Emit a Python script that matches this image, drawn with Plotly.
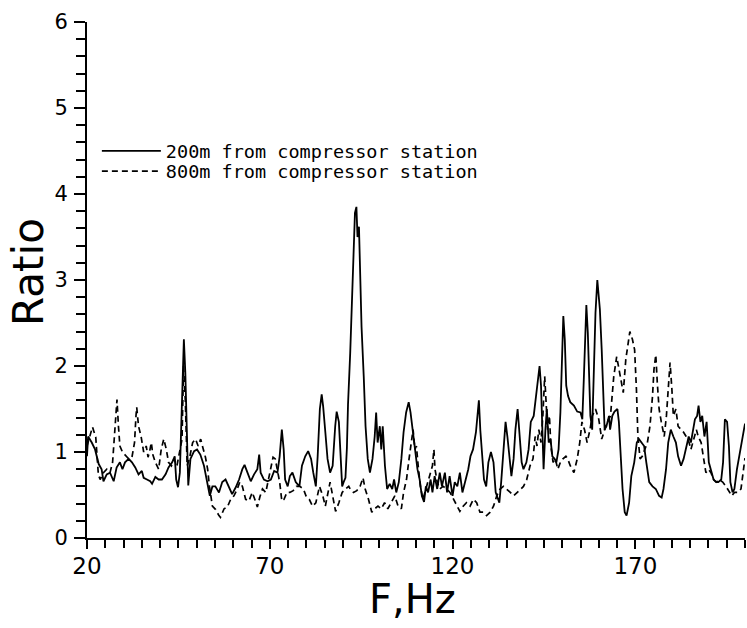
import plotly.graph_objects as go

# ---- data ----
solid_f = [20.0, 20.3, 21.3, 22.2, 23.2, 24.0, 24.5, 25.4, 26.3, 27.3, 28.1, 29.0, 29.7, 30.4, 31.4, 32.3, 33.2, 34.1, 35.0, 35.5,
           36.4, 37.3, 37.8, 38.7, 39.6, 40.5, 41.5, 42.3, 43.3, 44.0, 44.4, 44.9, 45.4, 45.8, 46.2, 46.5, 46.9, 47.3, 47.7, 48.3,
           49.3, 50.1, 51.0, 52.0, 52.8, 53.6, 54.3, 55.1, 56.1, 57.0, 57.9, 58.8, 59.7, 60.7, 61.6, 62.5, 63.1, 63.9, 64.8, 65.7,
           66.6, 67.1, 67.5, 68.4, 69.4, 70.3, 71.2, 72.1, 72.7, 73.3, 73.8, 74.2, 74.9, 75.5, 76.2, 77.1, 78.1, 78.8, 79.7, 80.5,
           81.3, 81.9, 82.6, 83.1, 83.7, 84.2, 84.6, 85.2, 85.8, 86.5, 87.2, 87.9, 88.3, 88.9, 89.3, 89.8, 90.2, 90.7, 91.1, 91.4,
           92.0, 92.5, 93.0, 93.3, 93.7, 94.0, 94.4, 94.7, 95.1, 95.7, 96.2, 96.8, 97.4, 98.1, 98.7, 99.1, 99.5, 100.1, 100.5, 100.9,
           101.5, 102.1, 102.8, 103.5, 104.0, 104.6, 105.3, 106.0, 106.6, 107.3, 108.0, 108.5, 109.2, 109.9, 110.4, 111.0, 111.6, 112.2, 112.7, 113.3,
           114.0, 114.5, 115.1, 115.8, 116.5, 117.1, 117.9, 118.5, 119.2, 120.0, 120.6, 121.3, 122.0, 122.7, 123.4, 124.3, 124.9, 125.6, 126.4, 127.0,
           127.2, 127.6, 128.1, 128.6, 129.2, 129.8, 130.5, 131.2, 131.8, 132.4, 132.8, 133.3, 133.9, 134.5, 135.0, 135.6, 136.1, 136.7, 137.2, 137.8,
           138.3, 138.9, 139.4, 140.2, 140.8, 141.4, 142.2, 142.8, 143.4, 143.8, 144.2, 144.6, 144.9, 145.4, 145.8, 146.3, 146.8, 147.3, 147.9, 148.4,
           149.0, 149.5, 150.0, 150.3, 150.7, 151.1, 151.6, 152.2, 153.2, 154.1, 155.0, 155.5, 155.9, 156.4, 156.6, 157.0, 157.4, 157.7, 158.2, 158.7,
           159.1, 159.6, 159.9, 160.3, 160.8, 161.2, 161.6, 162.1, 162.8, 163.1, 163.7, 164.3, 165.1, 165.5, 166.0, 166.5, 167.1, 167.6, 168.3, 168.9,
           169.7, 170.4, 171.0, 171.8, 172.4, 173.0, 173.8, 174.7, 175.6, 176.5, 177.2, 177.7, 178.4, 179.0, 179.7, 180.4, 181.1, 181.7, 182.5, 183.2,
           183.9, 184.6, 185.2, 185.8, 186.3, 186.9, 187.3, 187.8, 188.3, 188.9, 189.5, 190.1, 190.7, 191.4, 192.1, 192.7, 193.5, 194.0, 194.5, 195.1,
           195.6, 196.0, 196.6, 197.1, 197.8, 198.6, 199.4, 200.0]
solid_ratio = [0.95, 1.18, 1.11, 1.03, 0.86, 0.80, 0.66, 0.74, 0.76, 0.66, 0.82, 0.88, 0.80, 0.88, 0.92, 0.88, 0.82, 0.74, 0.78, 0.70,
               0.68, 0.66, 0.63, 0.71, 0.68, 0.68, 0.74, 0.82, 0.88, 0.95, 0.68, 0.59, 0.76, 1.26, 1.92, 2.31, 1.92, 1.15, 0.61, 0.92,
               1.01, 1.03, 0.97, 0.84, 0.68, 0.49, 0.60, 0.60, 0.53, 0.65, 0.68, 0.60, 0.51, 0.59, 0.68, 0.80, 0.85, 0.76, 0.66, 0.74,
               0.80, 0.97, 0.76, 0.68, 0.66, 0.68, 0.78, 0.76, 0.95, 1.26, 1.03, 0.68, 0.60, 0.72, 0.76, 0.65, 0.60, 0.84, 0.95, 1.01,
               0.92, 0.76, 0.60, 0.95, 1.50, 1.67, 1.53, 1.23, 0.92, 0.76, 0.84, 1.30, 1.47, 1.35, 0.95, 0.60, 0.65, 0.70, 1.05, 1.55,
               2.15, 2.80, 3.40, 3.78, 3.85, 3.50, 3.62, 3.04, 2.46, 1.88, 1.30, 0.92, 0.76, 0.92, 1.18, 1.46, 1.11, 1.30, 1.03, 1.30,
               0.84, 0.57, 0.63, 0.57, 0.68, 0.53, 0.65, 0.92, 1.23, 1.46, 1.58, 1.46, 1.23, 1.00, 0.80, 0.68, 0.49, 0.42, 0.60, 0.53,
               0.68, 0.53, 0.72, 0.57, 0.76, 0.60, 0.76, 0.53, 0.72, 0.49, 0.65, 0.60, 0.76, 0.53, 0.65, 0.80, 0.95, 1.03, 1.23, 1.45,
               1.60, 1.25, 0.95, 0.68, 0.60, 0.88, 1.00, 0.88, 0.53, 0.45, 0.41, 0.65, 1.07, 1.35, 1.18, 0.95, 0.72, 0.92, 1.26, 1.50,
               1.23, 0.88, 0.80, 0.88, 1.03, 1.35, 1.42, 1.65, 1.92, 2.00, 1.77, 1.26, 0.80, 1.26, 1.50, 1.11, 1.15, 0.95, 0.92, 0.88,
               1.03, 1.46, 2.04, 2.58, 2.31, 1.77, 1.65, 1.58, 1.54, 1.47, 1.46, 1.38, 1.84, 2.51, 2.71, 2.39, 1.92, 1.42, 1.26, 1.96,
               2.62, 3.00, 2.85, 2.66, 2.19, 1.58, 1.26, 1.30, 1.42, 1.26, 1.42, 1.47, 1.50, 1.35, 0.95, 0.57, 0.30, 0.26, 0.41, 0.72,
               0.88, 1.11, 1.15, 1.11, 1.07, 0.88, 0.65, 0.60, 0.57, 0.49, 0.47, 0.57, 0.80, 1.11, 1.26, 1.18, 1.11, 0.95, 0.84, 0.92,
               1.07, 1.18, 1.11, 1.26, 1.38, 1.42, 1.54, 1.35, 1.42, 1.18, 1.35, 0.88, 0.80, 0.68, 0.65, 0.65, 0.68, 0.88, 1.38, 1.35,
               1.07, 0.65, 0.53, 0.57, 0.80, 1.00, 1.15, 1.33]

dashed_f = [20.0, 21.5, 22.4, 23.1, 23.6, 24.5, 25.4, 26.3, 27.0, 27.5, 28.0, 28.2, 28.6, 29.0, 29.7, 30.4, 31.4, 32.3, 33.0, 33.4,
            33.6, 34.1, 34.8, 35.5, 36.2, 36.7, 37.1, 37.6, 38.0, 38.7, 39.6, 40.3, 41.0, 41.7, 42.3, 43.1, 43.8, 44.6, 45.4, 46.0,
            46.4, 46.9, 47.4, 48.0, 48.9, 49.7, 50.4, 51.1, 51.7, 52.4, 53.0, 53.5, 54.3, 55.2, 56.1, 56.5, 57.5, 58.4, 59.3, 60.2,
            61.1, 61.8, 62.5, 63.4, 64.3, 65.2, 65.9, 66.6, 67.3, 68.0, 68.9, 69.6, 70.3, 70.9, 71.5, 72.1, 72.7, 73.3, 73.9, 74.7,
            75.5, 76.4, 77.3, 78.2, 79.2, 79.9, 80.8, 81.7, 82.6, 83.6, 84.5, 85.2, 85.8, 86.5, 87.2, 88.0, 88.9, 89.8, 90.7, 91.6,
            92.0, 92.9, 93.8, 94.7, 95.5, 96.1, 97.0, 97.9, 98.7, 99.6, 100.5, 101.4, 102.3, 103.2, 104.2, 105.1, 106.0, 106.6, 107.4, 108.1,
            108.7, 109.2, 109.7, 110.1, 110.6, 111.2, 111.9, 112.7, 113.3, 114.0, 114.5, 114.9, 115.2, 115.8, 116.5, 117.4, 118.4, 119.3, 120.2, 121.1,
            122.0, 122.9, 123.8, 124.8, 125.7, 126.6, 127.5, 128.4, 129.3, 130.3, 131.2, 132.1, 133.0, 133.9, 134.8, 135.8, 136.7, 137.6, 138.5, 139.4,
            140.3, 141.2, 142.0, 142.6, 143.1, 143.6, 144.2, 144.7, 145.2, 145.6, 146.0, 146.5, 146.9, 147.5, 148.1, 148.8, 149.5, 150.2, 151.0, 151.5,
            152.2, 153.2, 154.1, 154.8, 155.4, 156.1, 156.8, 157.6, 158.2, 159.1, 160.0, 160.8, 161.4, 162.3, 163.2, 163.7, 164.1, 164.9, 165.5, 166.2,
            166.7, 167.4, 168.0, 168.5, 169.2, 169.8, 170.3, 170.7, 171.3, 171.9, 172.6, 173.3, 174.0, 174.7, 175.1, 175.6, 176.0, 176.5, 177.1, 177.9,
            178.5, 179.1, 179.5, 180.0, 180.4, 181.1, 181.7, 182.5, 183.2, 183.9, 184.7, 185.2, 185.9, 186.7, 187.2, 188.0, 188.7, 189.3, 190.0, 190.7,
            191.4, 192.2, 193.0, 193.9, 194.8, 195.7, 196.4, 197.1, 198.0, 198.9, 200.0]
dashed_ratio = [1.07, 1.29, 1.17, 0.74, 0.68, 0.76, 0.80, 0.76, 0.88, 1.15, 1.47, 1.61, 1.30, 1.07, 1.00, 0.97, 0.92, 0.94, 1.11, 1.42,
                1.52, 1.30, 1.18, 1.00, 1.07, 0.94, 1.00, 1.11, 0.97, 0.88, 0.80, 1.03, 1.15, 1.03, 0.88, 0.84, 0.92, 0.84, 1.00, 1.15,
                2.00, 1.60, 0.84, 0.92, 1.11, 1.15, 1.07, 1.15, 1.05, 0.94, 0.80, 0.60, 0.37, 0.33, 0.26, 0.24, 0.34, 0.36, 0.45, 0.49,
                0.57, 0.65, 0.60, 0.45, 0.43, 0.53, 0.45, 0.36, 0.48, 0.57, 0.53, 0.68, 0.80, 0.94, 0.92, 0.76, 0.65, 0.43, 0.45, 0.53,
                0.53, 0.55, 0.60, 0.60, 0.57, 0.49, 0.45, 0.37, 0.41, 0.60, 0.49, 0.37, 0.49, 0.65, 0.49, 0.31, 0.41, 0.53, 0.57, 0.60,
                0.57, 0.53, 0.55, 0.60, 0.70, 0.57, 0.45, 0.30, 0.34, 0.37, 0.34, 0.41, 0.34, 0.41, 0.49, 0.37, 0.34, 0.53, 0.68, 0.92,
                1.11, 1.26, 1.03, 1.07, 0.84, 0.60, 0.45, 0.57, 0.65, 0.76, 0.84, 1.03, 0.80, 0.65, 0.57, 0.60, 0.57, 0.53, 0.45, 0.37,
                0.31, 0.37, 0.41, 0.37, 0.45, 0.41, 0.30, 0.30, 0.26, 0.30, 0.37, 0.49, 0.57, 0.60, 0.57, 0.53, 0.49, 0.53, 0.57, 0.60,
                0.68, 0.84, 0.92, 1.18, 1.07, 1.26, 1.11, 1.42, 1.88, 1.58, 1.26, 1.42, 1.07, 0.88, 0.92, 0.80, 0.88, 0.92, 0.95, 0.92,
                0.84, 0.76, 0.92, 1.11, 1.35, 1.26, 1.11, 1.26, 1.42, 1.50, 1.38, 1.15, 1.23, 1.35, 1.42, 1.73, 1.88, 2.11, 1.96, 1.81,
                1.69, 2.08, 2.27, 2.40, 2.31, 2.19, 1.73, 1.18, 0.92, 0.95, 1.03, 1.11, 1.30, 1.65, 1.96, 2.13, 1.81, 1.50, 1.35, 1.18,
                1.42, 1.77, 2.04, 1.73, 1.42, 1.50, 1.30, 1.26, 1.23, 1.18, 1.11, 1.03, 1.15, 1.26, 1.18, 1.11, 0.92, 0.76, 0.80, 0.76,
                0.68, 0.65, 0.68, 0.65, 0.60, 0.53, 0.49, 0.53, 0.53, 0.57, 0.93]

series_names = ["200m from compressor station", "800m from compressor station"]
x_tick_vals = [20, 70, 120, 170]
y_tick_vals = [0, 1, 2, 3, 4, 5, 6]

# ---- figure ----
fig = go.Figure()
fig.add_trace(go.Scatter(x=solid_f, y=solid_ratio, mode="lines", name=series_names[0],
                         line=dict(color="black", width=1.8), legend="legend"))
fig.add_trace(go.Scatter(x=dashed_f, y=dashed_ratio, mode="lines", name=series_names[1],
                         line=dict(color="black", width=1.7, dash="6px,4px"), legend="legend2"))

legend_font = dict(family="DejaVu Sans Mono", size=18.5, color="black")
legend_common = dict(xanchor="left", yanchor="top", bgcolor="rgba(0,0,0,0)", itemwidth=59,
                     font=legend_font)

fig.update_layout(
    width=747, height=628,
    margin=dict(l=87, r=2, t=22, b=90),
    paper_bgcolor="white", plot_bgcolor="white",
    showlegend=True,
    legend=dict(x=0.015, y=0.786, **legend_common),
    legend2=dict(x=0.015, y=0.747, **legend_common),
    xaxis=dict(range=[20, 200], tickvals=x_tick_vals, ticks="outside", ticklen=9, tickwidth=1.5,
               tickcolor="black", showline=True, linewidth=2, linecolor="black",
               showgrid=False, zeroline=False, automargin=False,
               tickfont=dict(family="DejaVu Sans", size=23, color="black"), ticklabelstandoff=-3,
               minor=dict(dtick=5, tick0=20, ticks="outside", ticklen=8, tickwidth=1.5,
                          tickcolor="black", showgrid=False)),
    yaxis=dict(range=[0, 6], tickvals=y_tick_vals, ticks="outside", ticklen=11, tickwidth=1.5,
               tickcolor="black", showline=True, linewidth=2, linecolor="black",
               showgrid=False, zeroline=False, automargin=False,
               tickfont=dict(family="DejaVu Sans", size=21, color="black"), ticklabelstandoff=2,
               minor=dict(dtick=0.2, tick0=0, ticks="outside", ticklen=9, tickwidth=1.5,
                          tickcolor="black", showgrid=False)),
    annotations=[
        dict(text="Ratio", xref="paper", yref="paper", x=-0.0897, y=0.5155, textangle=-90,
             showarrow=False, xanchor="center", yanchor="middle",
             font=dict(family="DejaVu Sans", size=42, color="black")),
        dict(text="F,Hz", xref="paper", yref="paper", x=0.494, y=-0.118,
             showarrow=False, xanchor="center", yanchor="middle",
             font=dict(family="DejaVu Sans", size=40, color="black")),
    ],
)

fig.write_html("out.html")
